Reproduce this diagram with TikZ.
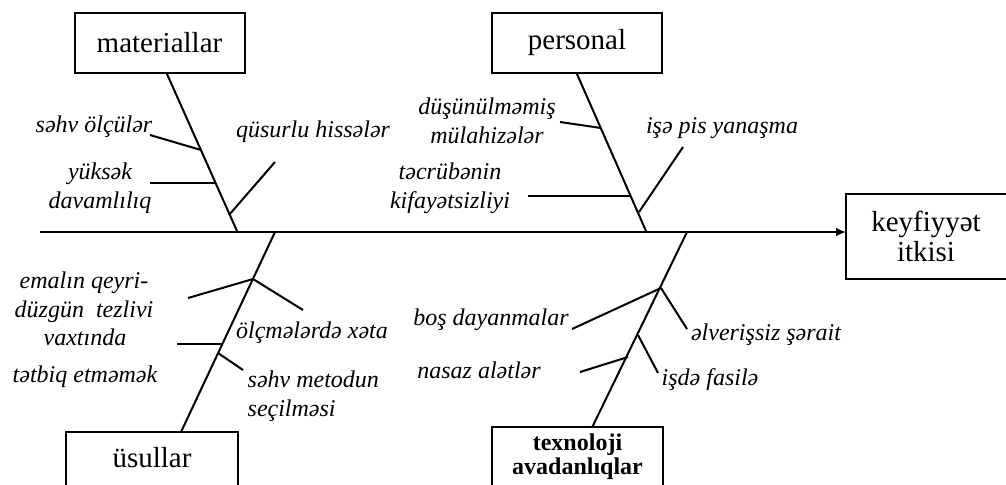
\documentclass[tikz,border=0pt]{standalone}
\usepackage{fontspec}
\setmainfont{Liberation Serif}
\usetikzlibrary{arrows.meta}

\begin{document}
\begin{tikzpicture}
  [x=0.5pt,y=-0.5pt,line width=1pt,
   box/.style={rectangle,draw,minimum width=85pt,minimum height=30pt,font=\fontsize{14.5}{15}\selectfont},
   cause/.style={align=center,font=\fontsize{12}{14.5}\selectfont\itshape}]
  \useasboundingbox (0,0) rectangle (1006,484);

  % boxes
  \node (mat)[box] at (159.5,43) {materiallar};
  \node (pers)[box] at (577,43) {personal};
  \node (usul)[box,draw=none,minimum height=25pt] at (152,458) {üsullar};
  \node (tex)[box,draw=none,minimum width=84.5pt,minimum height=25pt,align=center,
    font=\fontsize{12}{10}\selectfont\bfseries] at (577.5,457) {texnoloji\\avadanlıqlar};
  \node (loss)[box,draw=none,minimum width=79pt,minimum height=41.5pt,align=center] at (926,236.5) {keyfiyyət\\itkisi};
  \draw ([yshift=-8pt]usul.south west) |- (usul.north east) -- ([yshift=-8pt]usul.south east);
  \draw ([yshift=-8pt]tex.south west) |- (tex.north east) -- ([yshift=-8pt]tex.south east);
  \draw ([xshift=8pt]loss.north east) -| (loss.south west) -- ([xshift=8pt]loss.south east);

  % spine
  \coordinate (tail) at (40,232);
  \draw[-{Latex[length=5pt,width=4.5pt]}] (tail) -- (tail -| loss.west);

  % bones
  \coordinate (m0) at (237,231);
  \coordinate (p0) at (646,231);
  \coordinate (u0) at (275,232);
  \coordinate (t0) at (687,232);
  \draw ([xshift=3.75pt]mat.south) -- (m0);
  \draw (pers.south) -- (p0);
  \draw (u0) -- ([xshift=14.5pt]usul.north);
  \draw (t0) -- ([xshift=7.5pt]tex.north);

  % joints and free ends
  \coordinate (m1) at (201,150); \coordinate (m1e) at (150,135);
  \coordinate (m2) at (215,183); \coordinate (m2e) at (150,183);
  \coordinate (m3) at (229,215); \coordinate (m3e) at (275,162);
  \coordinate (p1) at (601,128); \coordinate (p1e) at (560,122);
  \coordinate (p2) at (630,196); \coordinate (p2e) at (528,196);
  \coordinate (p3) at (639,212); \coordinate (p3e) at (683,147);
  \coordinate (u1) at (253,279); \coordinate (u1a) at (188,298); \coordinate (u1b) at (303,310);
  \coordinate (u2) at (222,344); \coordinate (u2e) at (177,344);
  \coordinate (u3) at (218,353); \coordinate (u3e) at (243,370);
  \coordinate (t1) at (661,288); \coordinate (t1a) at (572,329); \coordinate (t1b) at (687,329);
  \coordinate (t2) at (638,335); \coordinate (t2e) at (658,373);
  \coordinate (t3) at (628,357); \coordinate (t3e) at (580,372);

  \foreach \from/\to in {m1/m1e,m2/m2e,m3/m3e,p1/p1e,p2/p2e,p3/p3e,u1/u1a,u1/u1b,u2/u2e,u3/u3e,t1/t1a,t1/t1b,t2/t2e,t3/t3e}
    \draw (\from) -- (\to);

  % causes
  \node (sehv)[cause] at (94,127) {səhv ölçülər};
  \node (yuk)[cause] at (100,188) {yüksək\\davamlılıq};
  \node (qus)[cause] at (313,132) {qüsurlu hissələr};
  \node (dus)[cause] at (487,121) {düşünülməmiş\\mülahizələr};
  \node (tec)[cause] at (450,188) {təcrübənin\\kifayətsizliyi};
  \node (ise)[cause] at (722,128) {işə pis yanaşma};
  \node (emal)[cause] at (84,297) {emalın qeyri-\\düzgün\ \ tezlivi};
  \node (olc)[cause] at (312,333) {ölçmələrdə xəta};
  \node (vax)[cause] at (85,358) {vaxtında\\[4pt]tətbiq etməmək};
  \node (met)[cause,align=left,anchor=west] at (240,396) {səhv metodun\\seçilməsi};
  \node (bos)[cause] at (491,320) {boş dayanmalar};
  \node (alv)[cause] at (766,335) {əlverişsiz şərait};
  \node (nas)[cause] at (479,370) {nasaz alətlər};
  \node (isd)[cause] at (710,380) {işdə fasilə};
\end{tikzpicture}
\end{document}
